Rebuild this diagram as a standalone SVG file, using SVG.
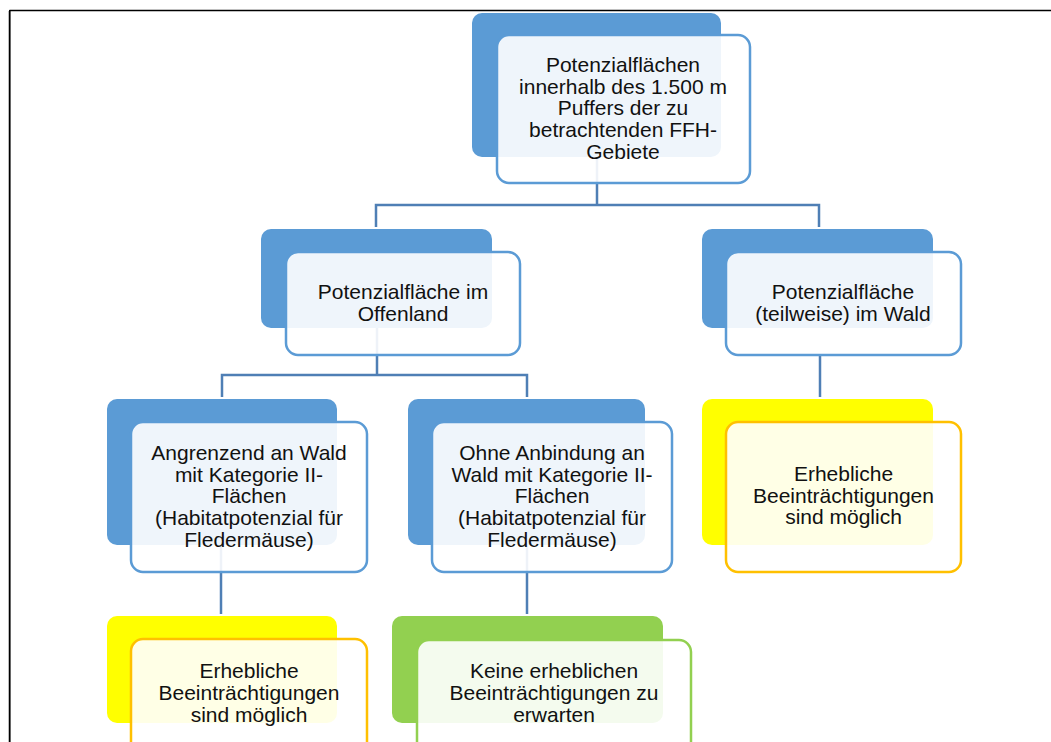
<svg xmlns="http://www.w3.org/2000/svg" width="1051" height="742" viewBox="0 0 1051 742">
<style>
text{font-family:"Liberation Sans",Arial,sans-serif;font-size:21px;fill:#111;text-anchor:middle}
.bb{fill:#5B9BD5}
.bf{fill:#fff;fill-opacity:0.9;stroke:#5B9BD5;stroke-width:2.5}
.yb{fill:#FFFF00}
.yf{fill:#fff;fill-opacity:0.9;stroke:#FFC000;stroke-width:2.5}
.gb{fill:#92D050}
.gf{fill:#fff;fill-opacity:0.9;stroke:#92D050;stroke-width:2.5}
.c{fill:none;stroke:#4F7FB5;stroke-width:2.5}
</style>
<rect width="1051" height="742" fill="#fff"/>
<g id="frame">
<line x1="8.5" y1="11" x2="8.5" y2="742" stroke="#bbb" stroke-width="1"/>
<line x1="9.5" y1="10.5" x2="1051" y2="10.5" stroke="#000" stroke-width="1.6"/>
<line x1="9.8" y1="10" x2="9.8" y2="742" stroke="#000" stroke-width="1.6"/>
</g>
<g id="connectors">
<path class="c" d="M597,157 V205 M376,227 V205 H819 V227"/>
<path class="c" d="M377,328 V375 M222,397 V375 H527 V397"/>
<path class="c" d="M820,355 V397"/>
<path class="c" d="M221,545 V614"/>
<path class="c" d="M527,545 V614"/>
</g>
<g id="n-top">
<rect class="bb" x="472" y="13" width="249" height="144" rx="10"/>
<rect class="bf" x="497" y="35" width="253" height="148" rx="12"/>
<text x="623" y="72">Potenzialflächen</text>
<text x="623" y="93.7">innerhalb des 1.500 m</text>
<text x="623" y="115.4">Puffers der zu</text>
<text x="623" y="137.1">betrachtenden FFH-</text>
<text x="623" y="158.8">Gebiete</text>
</g>
<g id="n-offen">
<rect class="bb" x="261" y="229" width="231" height="99" rx="10"/>
<rect class="bf" x="286" y="252" width="234" height="103" rx="12"/>
<text x="403" y="299">Potenzialfläche im</text>
<text x="403" y="320.5">Offenland</text>
</g>
<g id="n-wald">
<rect class="bb" x="702" y="229" width="231" height="99" rx="10"/>
<rect class="bf" x="726" y="252" width="235" height="103" rx="12"/>
<text x="843" y="299">Potenzialfläche</text>
<text x="843" y="320.5">(teilweise) im Wald</text>
</g>
<g id="n-angrenzend">
<rect class="bb" x="107" y="399" width="230" height="146" rx="10"/>
<rect class="bf" x="131" y="422" width="236" height="150" rx="12"/>
<text x="249" y="460">Angrenzend an Wald</text>
<text x="249" y="481.7">mit Kategorie II-</text>
<text x="249" y="503.4">Flächen</text>
<text x="249" y="525.1">(Habitatpotenzial für</text>
<text x="249" y="546.8">Fledermäuse)</text>
</g>
<g id="n-ohne">
<rect class="bb" x="408" y="399" width="237" height="146" rx="10"/>
<rect class="bf" x="432" y="422" width="240" height="150" rx="12"/>
<text x="552" y="460">Ohne Anbindung an</text>
<text x="552" y="481.7">Wald mit Kategorie II-</text>
<text x="552" y="503.4">Flächen</text>
<text x="552" y="525.1">(Habitatpotenzial für</text>
<text x="552" y="546.8">Fledermäuse)</text>
</g>
<g id="n-wald-result">
<rect class="yb" x="702" y="399" width="231" height="146" rx="10"/>
<rect class="yf" x="726" y="422" width="235" height="150" rx="12"/>
<text x="843.5" y="480.8">Erhebliche</text>
<text x="843.5" y="502.5">Beeinträchtigungen</text>
<text x="843.5" y="524.2">sind möglich</text>
</g>
<g id="n-angrenzend-result">
<rect class="yb" x="107" y="616" width="230" height="107" rx="10"/>
<rect class="yf" x="131" y="639" width="236" height="140" rx="12"/>
<text x="249" y="678">Erhebliche</text>
<text x="249" y="700">Beeinträchtigungen</text>
<text x="249" y="722">sind möglich</text>
</g>
<g id="n-ohne-result">
<rect class="gb" x="392" y="616" width="271" height="107" rx="10"/>
<rect class="gf" x="417" y="640" width="274" height="140" rx="12"/>
<text x="554" y="678">Keine erheblichen</text>
<text x="554" y="700">Beeinträchtigungen zu</text>
<text x="554" y="722">erwarten</text>
</g>
</svg>
